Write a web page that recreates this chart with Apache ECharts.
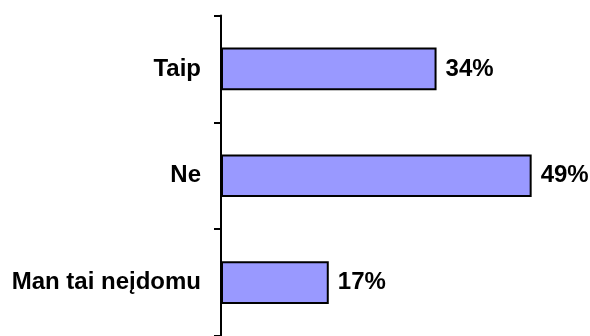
<!DOCTYPE html>
<html>
<head>
<meta charset="utf-8">
<script src="https://cdn.jsdelivr.net/npm/echarts@6/dist/echarts.min.js"></script>
<style>
  html, body { margin: 0; padding: 0; background: #fff; }
  #chart { width: 590px; height: 336px; }
</style>
</head>
<body>
<div id="chart"></div>
<script>
// Survey answers and their shares (percent)
const categories = ['Taip', 'Ne', 'Man tai neįdomu'];
const shares = [34, 49, 17];

const FONT = '"Liberation Sans", Arial, sans-serif';

const chart = echarts.init(document.getElementById('chart'), null, { renderer: 'canvas' });
chart.setOption({
  animation: false,
  backgroundColor: '#ffffff',
  grid: { left: 221, top: 15.5, width: 317, bottom: -2, containLabel: false },
  xAxis: {
    type: 'value',
    min: 0,
    max: 50,
    show: false
  },
  yAxis: {
    type: 'category',
    data: categories,
    inverse: true,
    axisLine: { show: true, lineStyle: { color: '#000', width: 2 } },
    axisTick: { show: true, length: 7, lineStyle: { color: '#000', width: 2 } },
    axisLabel: {
      margin: 20,
      color: '#000',
      fontFamily: FONT,
      fontWeight: 'bold',
      fontSize: 24
    },
    splitLine: { show: false }
  },
  series: [{
    type: 'bar',
    data: shares,
    barCategoryGap: '60%',
    itemStyle: { color: '#9999ff', borderColor: '#000', borderWidth: 2 },
    label: {
      show: true,
      position: 'right',
      distance: 9,
      formatter: '{c}%',
      color: '#000',
      fontFamily: FONT,
      fontWeight: 'bold',
      fontSize: 24
    }
  }]
});
</script>
</body>
</html>
